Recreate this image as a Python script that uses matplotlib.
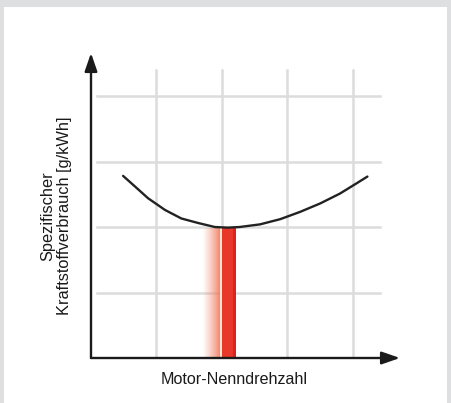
import numpy as np
import matplotlib.pyplot as plt
from matplotlib.patches import Rectangle

# Kurve: spezifischer Kraftstoffverbrauch ueber Motordrehzahl (ohne Einheit)
drehzahl = [0.49, 0.67, 0.87, 1.13, 1.38, 1.64, 1.89, 2.09, 2.27, 2.58, 2.89, 3.19, 3.50, 3.80, 4.06, 4.22]
verbrauch = [2.78, 2.62, 2.44, 2.26, 2.13, 2.06, 2.00, 1.99, 2.00, 2.04, 2.12, 2.23, 2.36, 2.51, 2.67, 2.77]

# Nenndrehzahl-Balken
nenn_x = [2.0]
nenn_breite = [0.22]
nenn_hoehe = [1.98]

grid_x = [1, 2, 3, 4]
grid_y = [1, 2, 3, 4]

x_label = "Motor-Nenndrehzahl"
y_label = "Spezifischer\nKraftstoffverbrauch [g/kWh]"

W, H = 452, 403
fig = plt.figure(figsize=(W / 100, H / 100), dpi=100, facecolor="#dedfe1")
fig.patches.append(Rectangle((4 / W, 0), (447 - 4) / W, (403 - 7) / H,
                             transform=fig.transFigure, facecolor="white",
                             edgecolor="none", zorder=-1))

x0, y0 = 91, 358
scale = 65.5
ax = fig.add_axes([x0 / W, (H - y0) / H, (400 - x0) / W, (y0 - 53) / H])
ax.set_zorder(2)
ax.set_facecolor("none")
xmax = (400 - x0) / scale
ymax = (y0 - 53) / scale
for s in ax.spines.values():
    s.set_visible(False)
ax.set_xticks([])
ax.set_yticks([])

# Raster
for gy in grid_y:
    ax.plot([0.09, 4.41], [gy, gy], color="#dcdcdc", lw=1.8, zorder=1)
for gx in grid_x:
    ax.plot([gx, gx], [0, 4.4], color="#dcdcdc", lw=1.8, zorder=1)

# Verlauf links vom Balken
n = 60
grad = np.zeros((1, n, 4))
grad[0, :, 0] = 0.96
grad[0, :, 1] = np.linspace(0.60, 0.42, n)
grad[0, :, 2] = np.linspace(0.50, 0.30, n)
grad[0, :, 3] = np.linspace(0.0, 0.85, n) ** 0.9
ax.imshow(grad, extent=[nenn_x[0] - 0.29, nenn_x[0] - 0.025, 0, nenn_hoehe[0]],
          aspect="auto", interpolation="bilinear", zorder=2)
ax.bar([nenn_x[0] - 0.025], nenn_hoehe, width=0.025, align="edge",
       color="#f6e6d0", edgecolor="none", zorder=2)
ax.bar(nenn_x, nenn_hoehe, width=nenn_breite, align="edge",
       color="#e8382a", edgecolor="none", zorder=3)
ax.bar([nenn_x[0] + nenn_breite[0] - 0.05], nenn_hoehe, width=0.05, align="edge",
       color="#dc2222", edgecolor="none", zorder=3)
ax.set_xlim(0, xmax)
ax.set_ylim(0, ymax)

# Kurve
ax.plot(drehzahl, verbrauch, color="#222222", lw=1.7, zorder=4,
        solid_capstyle="round", solid_joinstyle="round")

# Achsen mit Pfeilen
ax.annotate("", xy=(xmax, 0), xytext=(0, 0),
            arrowprops=dict(arrowstyle="-|>,head_length=1.1,head_width=0.38",
                            color="#1a1a1a", lw=1.7, shrinkA=0, shrinkB=0),
            zorder=5, annotation_clip=False)
ax.annotate("", xy=(0, ymax), xytext=(0, 0),
            arrowprops=dict(arrowstyle="-|>,head_length=1.1,head_width=0.38",
                            color="#1a1a1a", lw=1.7, shrinkA=0, shrinkB=0),
            zorder=5, annotation_clip=False)

font = ["Liberation Sans", "DejaVu Sans"]
fig.text(234 / W, 1 - 380 / H, x_label, ha="center", va="center",
         fontsize=11.6, family=font, color="#1a1a1a")
fig.text(56 / W, 1 - 216 / H, y_label, ha="center", va="center",
         rotation=90, multialignment="center", linespacing=1.1,
         fontsize=11.8, family=font, color="#1a1a1a")

fig.savefig("out.png", dpi=100, facecolor=fig.get_facecolor())
